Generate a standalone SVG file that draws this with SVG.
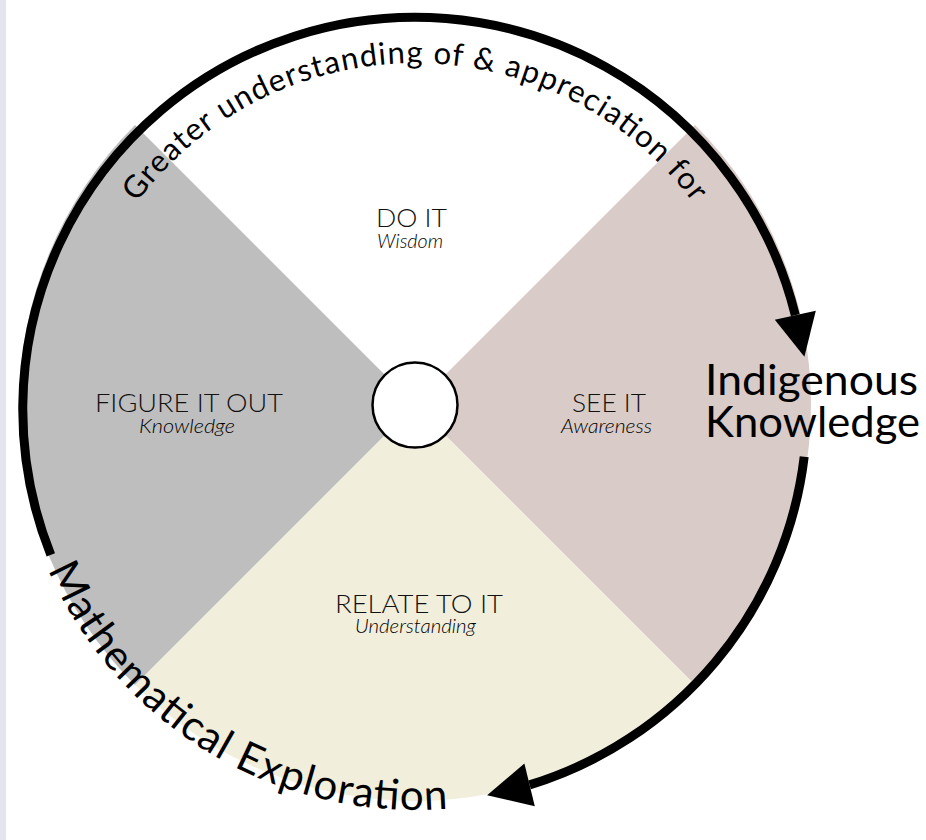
<svg xmlns="http://www.w3.org/2000/svg" xmlns:xlink="http://www.w3.org/1999/xlink" width="926" height="840" viewBox="0 0 926 840">
  <style>
    .lbl { font-family: Lato, "Liberation Sans", sans-serif; font-weight: 300; font-size: 25px; fill: #111; text-anchor: middle; }
    .sub { font-family: Lato, "Liberation Sans", sans-serif; font-weight: 300; font-style: italic; font-size: 19px; fill: #000; text-anchor: middle; }
    .big { font-family: Lato, "Liberation Sans", sans-serif; font-weight: 400; font-size: 42px; fill: #000; }
    .curve { font-family: Lato, "Liberation Sans", sans-serif; font-weight: 400; font-size: 31px; fill: #000; }
    .arc { fill: none; stroke: #000; stroke-width: 9; stroke-linecap: butt; }
    .head { fill: #000; }
  </style>
  <defs>
    <path id="topPath" d="M 68,410 A 347,347 0 0 1 762,410"/>
    <path id="botPath" d="M 15,410 A 400,400 0 0 0 815,410"/>
  </defs>
  <rect x="0" y="0" width="926" height="840" fill="#ffffff"/>
  <rect x="0" y="0" width="6" height="840" fill="#e4e4ee"/>

  <g id="do-it">
    <path d="M 415,405 L 135,125 A 396,396 0 0 1 695,125 Z" fill="#ffffff"/>
    <text class="lbl" x="411.5" y="227" textLength="71" lengthAdjust="spacingAndGlyphs">DO IT</text>
    <text class="sub" x="410" y="248" textLength="66" lengthAdjust="spacingAndGlyphs">Wisdom</text>
  </g>
  <g id="see-it">
    <path d="M 415,405 L 695,125 A 396,396 0 0 1 695,685 Z" fill="#d9cbc7"/>
    <text class="lbl" x="609" y="412" textLength="74" lengthAdjust="spacingAndGlyphs">SEE IT</text>
    <text class="sub" x="606.5" y="433" textLength="91" lengthAdjust="spacingAndGlyphs">Awareness</text>
  </g>
  <g id="relate-to-it">
    <path d="M 415,405 L 695,685 A 396,396 0 0 1 135,685 Z" fill="#f1eedc"/>
    <text class="lbl" x="419" y="613" textLength="168" lengthAdjust="spacingAndGlyphs">RELATE TO IT</text>
    <text class="sub" x="415.5" y="633" textLength="121" lengthAdjust="spacingAndGlyphs">Understanding</text>
  </g>
  <g id="figure-it-out">
    <path d="M 415,405 L 135,685 A 396,396 0 0 1 135,125 Z" fill="#bebebe"/>
    <text class="lbl" x="189" y="412" textLength="188" lengthAdjust="spacingAndGlyphs">FIGURE IT OUT</text>
    <text class="sub" x="187" y="433" textLength="96" lengthAdjust="spacingAndGlyphs">Knowledge</text>
  </g>
  <g id="center">
    <circle cx="415" cy="405" r="42.5" fill="#ffffff" stroke="#000" stroke-width="2.5"/>
  </g>

  <g id="connectors">
    <path class="arc" d="M 50.8,554.9 A 392,392 0 1 1 795.3,315.2"/>
    <polygon class="head" points="804.4,356.7 815.8,310.7 774.8,319.7"/>
    <path class="arc" d="M 804.2,456.8 A 392,392 0 0 1 529.6,784.9"/>
    <polygon class="head" points="487.1,795.3 534.8,806.3 524.4,763.5"/>
  </g>

  <g id="top-label">
    <text class="curve"><textPath xlink:href="#topPath" href="#topPath" startOffset="50%" text-anchor="middle" textLength="645" lengthAdjust="spacing">Greater understanding of &amp; appreciation for</textPath></text>
  </g>
  <g id="math-label">
    <text class="big"><textPath xlink:href="#botPath" href="#botPath" startOffset="164" textLength="497" lengthAdjust="spacing">Mathematical Exploration</textPath></text>
  </g>
  <g id="indigenous-label">
    <text class="big" x="705" y="395" textLength="213" lengthAdjust="spacingAndGlyphs">Indigenous</text>
    <text class="big" x="705" y="437" textLength="215" lengthAdjust="spacingAndGlyphs">Knowledge</text>
  </g>
</svg>
